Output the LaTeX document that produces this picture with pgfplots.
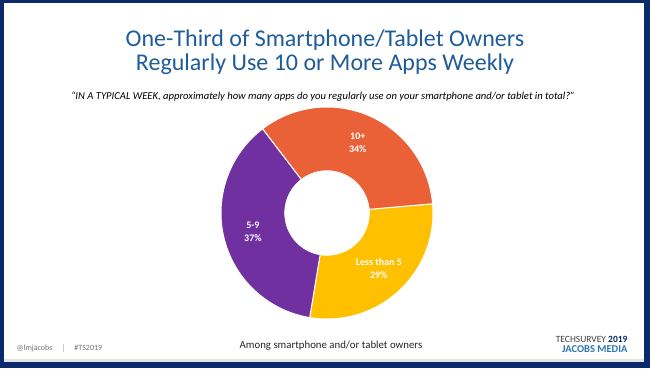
\documentclass[border=0pt]{standalone}
\usepackage{pgfplots}
\pgfplotsset{compat=1.18}
\usepackage{pgfplotstable}
\usepackage{fontspec}
\setmainfont{Carlito}
\definecolor{navy}{HTML}{0B2A6B}
\definecolor{titleblue}{HTML}{1F5C99}
\definecolor{cyellow}{HTML}{FFC000}
\definecolor{cpurple}{HTML}{7030A0}
\definecolor{corange}{HTML}{EA6138}
\definecolor{logoblue}{HTML}{2E75B6}

\pgfplotstableread{
label pct
{Less than 5} 29
5-9 37
10+ 34
}\datatable
\pgfplotstablegetelem{0}{pct}\of\datatable \let\pA\pgfplotsretval
\pgfplotstablegetelem{1}{pct}\of\datatable \let\pB\pgfplotsretval
\pgfplotstablegetelem{2}{pct}\of\datatable \let\pC\pgfplotsretval
\pgfmathsetmacro\sA{5}
\pgfmathsetmacro\eA{\sA-3.6*\pA}
\pgfmathsetmacro\eB{\eA-3.6*\pB}
\pgfmathsetmacro\eC{\eB-3.6*\pC}
\pgfmathsetmacro\mA{(\sA+\eA)/2}
\pgfmathsetmacro\mB{(\eA+\eB)/2}
\pgfmathsetmacro\mC{(\eB+\eC)/2}

\begin{document}
\begin{tikzpicture}[x=1pt,y=1pt]
\useasboundingbox (0,0) rectangle (650,368);
\fill[navy] (0,0) rectangle (650,368);
\fill[white] (4,6) rectangle (644,365);
\fill[gray!22] (4,6) rectangle (644,9.5);
\node[text=titleblue, align=center, font=\fontsize{24}{24.5}\selectfont] at (325,316) {One-Third of Smartphone/Tablet Owners\\Regularly Use 10 or More Apps Weekly};
\node[font=\itshape\fontsize{10.6}{12}\selectfont] at (323,271) {``IN A TYPICAL WEEK, approximately how many apps do you regularly use on your smartphone and/or tablet in total?''};
\node[font=\fontsize{10.8}{12}\selectfont, text=black!85] at (331,22) {Among smartphone and/or tablet owners};
\node[anchor=west, font=\fontsize{8}{9}\selectfont, text=black!55] at (13,20) {@lmjacobs\quad\ $|$\quad\ \#TS2019};
\node[anchor=east, font=\fontsize{9.5}{10}\selectfont, text=black!75] at (631,29) {TECHSURVEY \textbf{\textcolor{navy}{2019}}};
\node[anchor=east, font=\bfseries\fontsize{10.5}{10}\selectfont, text=logoblue] at (631,18.5) {JACOBS MEDIA};
\begin{axis}[
  at={(327pt,155pt)}, anchor=center,
  width=212pt, height=212pt, scale only axis,
  xmin=-1, xmax=1, ymin=-1, ymax=1,
  hide axis, clip=false,
]
\addplot[fill=cyellow, draw=white, line width=1pt, domain=\eA:\sA, samples=80, variable=\t] ({cos(t)},{sin(t)}) -- (axis cs:0,0) -- cycle;
\addplot[fill=cpurple, draw=white, line width=1pt, domain=\eB:\eA, samples=80, variable=\t] ({cos(t)},{sin(t)}) -- (axis cs:0,0) -- cycle;
\addplot[fill=corange, draw=white, line width=1pt, domain=\eC:\eB, samples=80, variable=\t] ({cos(t)},{sin(t)}) -- (axis cs:0,0) -- cycle;
\addplot[fill=white, draw=white, domain=0:360, samples=100, variable=\t] ({0.4*cos(t)},{0.4*sin(t)}) -- cycle;
\node[text=white, font=\bfseries\fontsize{10}{13}\selectfont, align=center] at (axis cs:{0.72*cos(\mA)},{0.72*sin(\mA)}) {Less than 5\\\pA\%};
\node[text=white, font=\bfseries\fontsize{10}{13}\selectfont, align=center] at (axis cs:{0.72*cos(\mB)},{0.72*sin(\mB)}) {5-9\\\pB\%};
\node[text=white, font=\bfseries\fontsize{10}{13}\selectfont, align=center] at (axis cs:{0.72*cos(\mC)},{0.72*sin(\mC)}) {10+\\\pC\%};
\end{axis}
\end{tikzpicture}
\end{document}
